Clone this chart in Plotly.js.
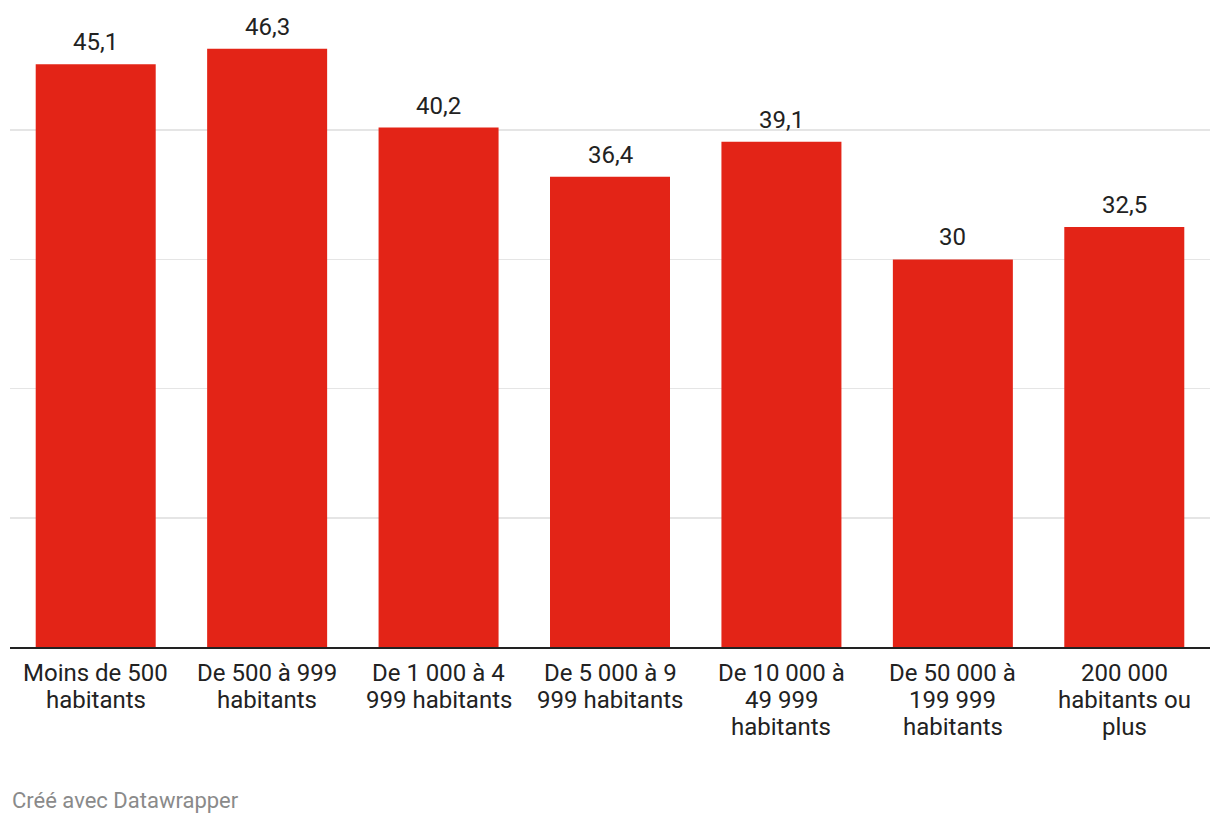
<!DOCTYPE html>
<html>
<head>
<meta charset="utf-8">
<script src="https://cdn.plot.ly/plotly-3.0.1.min.js"></script>
<style>
html,body{margin:0;padding:0;background:#fff;}
#chart{width:1220px;height:824px;}
</style>
</head>
<body>
<div id="chart"></div>
<script>
const categories = [
  "Moins de 500<br>habitants",
  "De 500 à 999<br>habitants",
  "De 1 000 à 4<br>999 habitants",
  "De 5 000 à 9<br>999 habitants",
  "De 10 000 à<br>49 999<br>habitants",
  "De 50 000 à<br>199 999<br>habitants",
  "200 000<br>habitants ou<br>plus"
];
const values = [45.1, 46.3, 40.2, 36.4, 39.1, 30, 32.5];
const valueLabels = values.map(v => String(v).replace('.', ','));
const gridTicks = [0, 10, 20, 30, 40, 50];

const FONT = "Roboto, 'Noto Sans', sans-serif";

const trace = {
  type: 'bar',
  x: categories,
  y: values,
  marker: {color: '#e32417'},
  hoverinfo: 'none'
};

const annotations = [];
categories.forEach((c, i) => {
  annotations.push({
    x: c, y: values[i], xref: 'x', yref: 'y',
    text: valueLabels[i], showarrow: false,
    yanchor: 'middle', yshift: 22,
    font: {family: FONT, size: 24, color: '#222'}
  });
  c.split('<br>').forEach((line, k) => {
    annotations.push({
      x: c, y: 0, xref: 'x', yref: 'paper',
      text: line, showarrow: false,
      yanchor: 'middle', yshift: -25.5 - k * 27.4,
      font: {family: FONT, size: 24, color: '#222'}
    });
  });
});
annotations.push({
  xref: 'paper', yref: 'paper', x: 0, y: 0,
  xanchor: 'left', yanchor: 'middle', yshift: -153,
  text: 'Créé avec Datawrapper', showarrow: false,
  font: {family: FONT, size: 22, color: '#8a8a8a'}
});

const layout = {
  width: 1220, height: 824,
  margin: {l: 10, r: 10, t: 1, b: 177},
  paper_bgcolor: '#fff', plot_bgcolor: '#fff',
  bargap: 0.3,
  showlegend: false,
  font: {family: FONT, size: 24, color: '#222'},
  xaxis: {
    type: 'category',
    showgrid: false, zeroline: false,
    showline: true, linecolor: '#222', linewidth: 2,
    ticks: '', showticklabels: false,
    fixedrange: true
  },
  yaxis: {
    range: [0, 50],
    tickvals: gridTicks, showticklabels: false,
    showgrid: true, gridcolor: '#e5e5e5', gridwidth: 1.5,
    zeroline: false, showline: false, ticks: '',
    fixedrange: true
  },
  annotations: annotations
};

Plotly.newPlot('chart', [trace], layout, {displayModeBar: false, staticPlot: true});
</script>
</body>
</html>
